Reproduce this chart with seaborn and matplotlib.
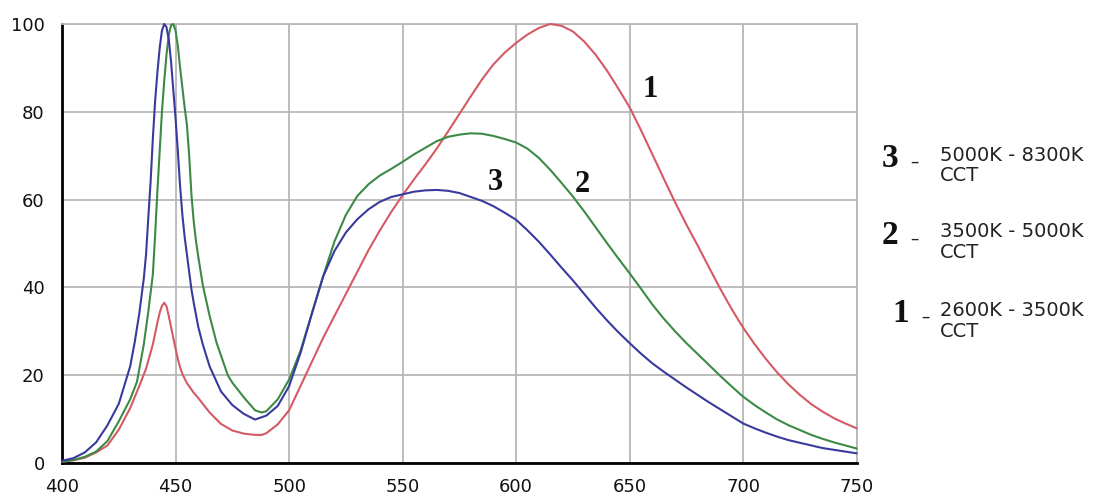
import pandas as pd
import numpy as np
import matplotlib
matplotlib.use('Agg')
import matplotlib.pyplot as plt
import seaborn as sns

# spectra (wavelength nm, relative intensity %)
wl_3 = [400, 405, 410, 415, 420, 425, 430, 432, 434, 436, 437, 438, 439, 440, 441, 442, 443, 444,
        445, 446, 447, 448, 449, 450, 451, 452, 453, 454, 455, 456, 457, 458, 460, 462, 465, 470,
        475, 480, 485, 490, 495, 500, 505, 510, 515, 520, 525, 530, 535, 540, 545, 550, 555, 560,
        565, 570, 575, 580, 585, 590, 595, 600, 605, 610, 615, 620, 625, 630, 635, 640, 645, 650,
        655, 660, 665, 670, 675, 680, 685, 690, 695, 700, 705, 710, 715, 720, 725, 730, 735, 740,
        745, 750]
val_3 = [0.5, 1.1, 2.4, 4.7, 8.6, 13.5, 22, 27.5, 34, 42, 47.5, 56, 64, 74, 82.5, 89, 94.5, 98.5,
         100, 99.3, 96.5, 91.5, 85, 78.5, 71, 63, 56.5, 51.5, 47.5, 43.5, 39.5, 36.5, 31, 27, 22, 16.3,
         13.2, 11.2, 9.9, 10.8, 13, 17.5, 25, 34, 42.5, 48.3, 52.5, 55.5, 57.8, 59.5, 60.6, 61.2, 61.8, 62.1,
         62.2, 62, 61.5, 60.6, 59.7, 58.5, 57, 55.4, 53, 50.4, 47.5, 44.5, 41.6, 38.5, 35.4, 32.5, 29.8, 27.3,
         24.9, 22.7, 20.8, 19, 17.2, 15.5, 13.8, 12.2, 10.6, 9.0, 7.9, 6.9, 6, 5.2, 4.6, 4, 3.4, 3,
         2.6, 2.2]

wl_2 = [400, 405, 410, 415, 420, 425, 430, 433, 436, 438, 440, 441, 442, 443, 444, 445, 446, 447,
        448, 449, 450, 451, 452, 453, 454, 455, 456, 457, 458, 459, 460, 462, 465, 468, 470, 473,
        475, 480, 485, 488, 490, 495, 500, 505, 510, 515, 520, 525, 530, 535, 540, 545, 550, 555,
        560, 565, 570, 575, 580, 585, 590, 595, 600, 605, 610, 615, 620, 625, 630, 635, 640, 645,
        650, 655, 660, 665, 670, 675, 680, 685, 690, 695, 700, 705, 710, 715, 720, 725, 730, 735,
        740, 745, 750]
val_2 = [0.3, 0.7, 1.4, 2.6, 5, 9.5, 14.5, 18.5, 27, 34.5, 43, 52, 62, 71, 80, 87, 93, 97.5,
         99.7, 100, 98.5, 95, 90, 85.5, 81, 77, 70, 61, 55, 50.5, 47, 40.5, 33.5, 27.5, 24.5, 20,
         18.3, 15, 12, 11.5, 11.8, 14.5, 19, 25.5, 34, 42.5, 50.5, 56.5, 60.8, 63.5, 65.5, 67, 68.6, 70.3,
         71.8, 73.3, 74.3, 74.8, 75.1, 75, 74.5, 73.8, 73, 71.6, 69.5, 66.8, 63.8, 60.7, 57.3, 53.7, 50.1, 46.6,
         43.2, 39.7, 36.1, 32.9, 30, 27.3, 24.8, 22.3, 19.8, 17.4, 15.1, 13.2, 11.5, 9.9, 8.6, 7.5, 6.4, 5.5,
         4.7, 4, 3.3]

wl_1 = [400, 405, 410, 415, 420, 425, 430, 434, 437, 440, 442, 443, 444, 445, 446, 447, 448, 449,
        450, 451, 452, 453, 455, 458, 460, 465, 470, 475, 480, 485, 488, 490, 495, 500, 505, 510,
        515, 520, 525, 530, 535, 540, 545, 550, 555, 560, 565, 570, 575, 580, 585, 590, 595, 600,
        605, 610, 615, 620, 625, 630, 635, 640, 645, 650, 655, 660, 665, 670, 675, 680, 685, 690,
        695, 700, 705, 710, 715, 720, 725, 730, 735, 740, 745, 750]
val_1 = [0.3, 0.6, 1.2, 2.4, 4, 7.6, 12.5, 17.5, 21.5, 27, 32, 34.2, 35.8, 36.5, 35.7, 33.5, 31, 28.5,
         26, 23.7, 21.8, 20.3, 18.2, 16, 14.8, 11.5, 8.9, 7.4, 6.7, 6.4, 6.4, 6.8, 8.8, 12, 17.5, 23,
         28.5, 33.5, 38.5, 43.5, 48.5, 53, 57.2, 61, 64.6, 68, 71.6, 75.5, 79.5, 83.5, 87.4, 90.8, 93.5, 95.7,
         97.6, 99.1, 100, 99.6, 98.3, 96, 93, 89.4, 85.3, 81, 75.8, 70.3, 64.8, 59.4, 54.3, 49.5, 44.5, 39.6,
         35, 30.8, 27.1, 23.7, 20.6, 17.9, 15.5, 13.4, 11.7, 10.2, 9, 7.9]

curve_names = ['1', '2', '3']
cct_labels = ['2600K - 3500K', '3500K - 5000K', '5000K - 8300K']
colors = {'1': '#d45a64', '2': '#3c8a46', '3': '#3a3a9e'}

df = pd.concat([
    pd.DataFrame({'wl': wl_1, 'val': val_1, 'curve': '1'}),
    pd.DataFrame({'wl': wl_2, 'val': val_2, 'curve': '2'}),
    pd.DataFrame({'wl': wl_3, 'val': val_3, 'curve': '3'}),
])

sns.set_style('white')
fig, ax = plt.subplots(figsize=(11.04, 5), dpi=100)
fig.subplots_adjust(left=0.0562, right=0.776, bottom=0.074, top=0.952)

sns.lineplot(data=df, x='wl', y='val', hue='curve', palette=colors, legend=False,
             sort=False, linewidth=1.5, ax=ax, clip_on=False, zorder=3)

ax.set_xlim(400, 750)
ax.set_ylim(0, 100)
ax.set_xticks(range(400, 751, 50))
ax.set_yticks(range(0, 101, 20))
ax.set_xlabel('')
ax.set_ylabel('')
ax.grid(True, color='#b8b8b8', linewidth=1.3)
ax.set_axisbelow(True)
for s in ['top', 'right']:
    ax.spines[s].set_color('#b8b8b8')
    ax.spines[s].set_linewidth(1.3)
for s in ['left', 'bottom']:
    ax.spines[s].set_color('black')
    ax.spines[s].set_linewidth(2)
ax.tick_params(direction='out', length=6.5, width=1.5, color='black', labelsize=13,
               labelcolor='#111111')
ax.tick_params(axis='y', pad=6)
ax.tick_params(axis='x', pad=4)

# curve numbers on the chart
num_font = dict(family='Liberation Serif', fontweight='bold', fontsize=22, color='#111111')
ax.text(659, 85, '1', ha='center', va='center', **num_font)
ax.text(629, 63.5, '2', ha='center', va='center', **num_font)
ax.text(591, 64, '3', ha='center', va='center', **num_font)

# key on the right
key_rows = [('3', cct_labels[2], 158, 165.5), ('2', cct_labels[1], 235, 242),
            ('1', cct_labels[0], 313, 321)]
for num, lab, ypx, typx in key_rows:
    fy = 1 - ypx / 500
    fx = 890 / 1104 if num != '1' else 901 / 1104
    fig.text(fx, fy, num, ha='center', va='center', family='Liberation Serif',
             fontweight='bold', fontsize=24, color='#111111')
    fig.text(fx + 24 / 1104, fy - 4 / 500, '\u2013', ha='center', va='center', fontsize=12,
             color='#222222')
    fig.text(940 / 1104, 1 - typx / 500, lab + '\nCCT', ha='left', va='center', fontsize=14,
             color='#222222', linespacing=1.1)

fig.savefig('out.png', dpi=100)
